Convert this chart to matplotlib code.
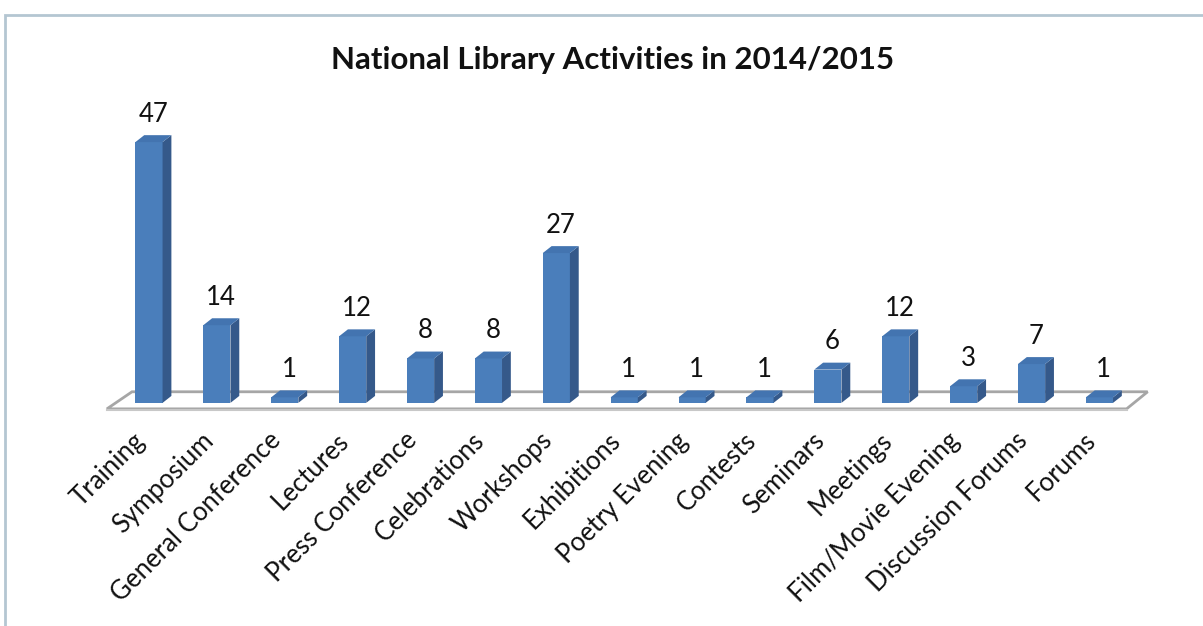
import matplotlib
matplotlib.use("Agg")
import matplotlib.pyplot as plt
from matplotlib.patches import Polygon, Rectangle

# activity counts
activities = ["Training", "Symposium", "General Conference", "Lectures",
              "Press Conference", "Celebrations", "Workshops", "Exhibitions",
              "Poetry Evening", "Contests", "Seminars", "Meetings",
              "Film/Movie Evening", "Discussion Forums", "Forums"]
counts = [47, 14, 1, 12, 8, 8, 27, 1, 1, 1, 6, 12, 3, 7, 1]

plt.rcParams['font.family'] = ['Lato', 'DejaVu Sans']

front_col = '#4a7ebb'
side_col = '#35598a'
top_col = '#4374b0'
floor_edge = '#a6a6a6'

# fake 3d depth (data units)
w = 0.40
dx, dy = 0.13, 1.25

fig = plt.figure(figsize=(12.03, 6.26), dpi=100)
ax = fig.add_axes([0.0787, 0.3387, 0.886, 0.4609])
ax.set_xlim(-0.8, 14.9)
ax.set_ylim(-2, 50)
ax.axis('off')

# floor
floor = Polygon([(-0.62, -1.08), (14.4, -1.08), (14.71, 2.0), (-0.25, 2.0)],
                closed=True, facecolor='white', edgecolor=floor_edge, lw=2, zorder=1)
ax.add_patch(floor)
ax.plot([-0.62, 14.4], [-1.3, -1.3], color='#c8c8c8', lw=1.5, zorder=1)

x = list(range(len(counts)))
ax.bar(x, counts, width=w, color=front_col, zorder=3)
for i, v in zip(x, counts):
    r = i + w / 2
    l = i - w / 2
    ax.add_patch(Polygon([(r, 0), (r + dx, dy), (r + dx, v + dy), (r, v)],
                         closed=True, facecolor=side_col, edgecolor='none', zorder=3))
    ax.add_patch(Polygon([(l, v), (r, v), (r + dx, v + dy), (l + dx, v + dy)],
                         closed=True, facecolor=top_col, edgecolor='none', zorder=3))
    ax.text(i + dx / 2, v + dy + 1.5, str(v), ha='center', va='bottom',
            fontsize=18.5, color='#111111', zorder=4)
    ax.text(i + 0.02, -4.5, activities[i], rotation=45, ha='right', va='top',
            fontsize=18.5, color='#111111', clip_on=False)

fig.text(0.509, 1 - 60 / 626, "National Library Activities in 2014/2015",
         ha='center', va='center', fontsize=22.5, fontweight='bold', color='#111111')

# chart area border (cut off at right/bottom)
fig.patches.append(Rectangle((5 / 1203, -0.1), 1.2, (626 - 15) / 626 + 0.1,
                             transform=fig.transFigure, fill=False,
                             edgecolor='#b4c6d2', lw=2))

fig.savefig("out.png", dpi=100)
